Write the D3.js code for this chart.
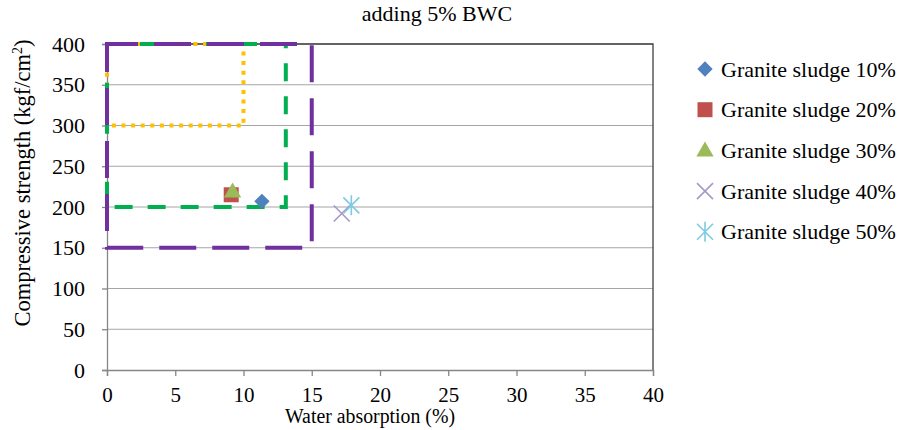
<!DOCTYPE html>
<html>
<head>
<meta charset="utf-8">
<script src="https://cdn.jsdelivr.net/npm/d3@7"></script>
<style>
  body { margin: 0; background: #fff; }
  text { font-family: "Liberation Serif", "Times New Roman", serif; fill: #000; }
</style>
</head>
<body>
<div id="chart"></div>
<script>
// data
var seriesNames = ["Granite sludge 10%", "Granite sludge 20%", "Granite sludge 30%", "Granite sludge 40%", "Granite sludge 50%"];
var waterAbsorption = [11.35, 9.1, 9.2, 17.2, 17.9];
var compStrength = [207, 215, 219, 192, 202];
var xTicks = [0, 5, 10, 15, 20, 25, 30, 35, 40];
var yTicks = [0, 50, 100, 150, 200, 250, 300, 350, 400];

// limit boxes [x0, x1] / [y0, y1]
var boxNames = ["yellow", "green", "purple"];
var boxX = [[0, 10], [0, 13.1], [0, 15]];
var boxY = [[300, 400], [200, 400], [150, 400]];

var width = 901, height = 430;
var margin = {left: 107, right: 248, top: 44, bottom: 60};

var svg = d3.select("#chart").append("svg")
  .attr("width", width)
  .attr("height", height);

var x = d3.scaleLinear().domain([0, 40]).range([margin.left, width - margin.right]);
var y = d3.scaleLinear().domain([0, 400]).range([height - margin.bottom, margin.top]);

// gridlines
svg.append("g")
  .selectAll("line")
  .data(yTicks.slice(1))
  .enter().append("line")
  .attr("x1", x(0)).attr("x2", x(40))
  .attr("y1", function (d) { return y(d); })
  .attr("y2", function (d) { return y(d); })
  .attr("stroke", "#a6a6a6")
  .attr("stroke-width", 1.2);

// frame top + right
svg.append("path")
  .attr("d", "M" + x(0) + "," + y(400) + "H" + x(40) + "V" + y(0))
  .attr("fill", "none")
  .attr("stroke", "#404040")
  .attr("stroke-width", 1.3);

var yAxis = svg.append("g")
  .attr("transform", "translate(" + x(0) + ",0)")
  .call(d3.axisLeft(y).tickValues(yTicks).tickSize(5).tickPadding(17));
var xAxis = svg.append("g")
  .attr("transform", "translate(0," + y(0) + ")")
  .call(d3.axisBottom(x).tickValues(xTicks).tickSize(6).tickPadding(11));

[xAxis, yAxis].forEach(function (a) {
  a.select(".domain").attr("stroke", "#868686").attr("stroke-width", 1.3);
  a.selectAll(".tick line").attr("stroke", "#868686").attr("stroke-width", 1.3);
  a.selectAll(".tick text")
    .style("font-family", "Liberation Serif")
    .attr("fill", "#000");
});
yAxis.selectAll(".tick text").style("font-size", "22px");
xAxis.selectAll(".tick text").style("font-size", "21px");

// boxes
var boxStyle = {
  yellow: {color: "#ffc000", dash: "4,5.6"},
  green: {color: "#00b050", dash: "18,15"},
  purple: {color: "#7030a0", dash: "37,16"}
};
boxNames.forEach(function (n, i) {
  var x0 = x(boxX[i][0]), x1 = x(boxX[i][1]);
  var y0 = y(boxY[i][0]), y1 = y(boxY[i][1]);
  svg.append("path")
    .attr("d", "M" + x0 + "," + y1 + "H" + x1 + "V" + y0 + "H" + x0 + "Z")
    .attr("fill", "none")
    .attr("stroke", boxStyle[n].color)
    .attr("stroke-width", 4)
    .attr("stroke-dasharray", boxStyle[n].dash)
    .attr("stroke-dashoffset", n === "purple" ? 6 : 0);
});

// markers
var colors = ["#4f81bd", "#c0504d", "#9bbb59", "#a897c8", "#7dcbe0"];

function drawMarker(g, i, cx, cy) {
  if (i === 0) {
    g.append("path").attr("d", d3.symbol().type(d3.symbolDiamond2).size(150)())
      .attr("transform", "translate(" + cx + "," + cy + ")").attr("fill", colors[i]);
  } else if (i === 1) {
    g.append("rect").attr("x", cx - 7.5).attr("y", cy - 7.5)
      .attr("width", 15).attr("height", 15).attr("fill", colors[i]);
  } else if (i === 2) {
    g.append("path").attr("d", d3.symbol().type(d3.symbolTriangle).size(130)())
      .attr("transform", "translate(" + cx + "," + (cy + 1) + ")").attr("fill", colors[i]);
  } else if (i === 3) {
    g.append("path")
      .attr("d", "M-8,-8L8,8M-8,8L8,-8")
      .attr("transform", "translate(" + cx + "," + cy + ")")
      .attr("stroke", colors[i]).attr("stroke-width", 1.6).attr("fill", "none");
  } else {
    g.append("path")
      .attr("d", "M-8,-8L8,8M-8,8L8,-8M0,-10V10")
      .attr("transform", "translate(" + cx + "," + cy + ")")
      .attr("stroke", colors[i]).attr("stroke-width", 1.6).attr("fill", "none");
  }
}

var pts = svg.append("g");
seriesNames.forEach(function (s, i) {
  drawMarker(pts, i, x(waterAbsorption[i]), y(compStrength[i]));
});

// legend
var legend = svg.append("g");
seriesNames.forEach(function (s, i) {
  var ly = 69 + i * 40.7;
  drawMarker(legend, i, 705, ly);
  legend.append("text")
    .attr("x", 721).attr("y", ly + 7.5)
    .style("font-size", "22px")
    .text(s);
});

// titles
svg.append("text")
  .attr("x", 437).attr("y", 21)
  .attr("text-anchor", "middle")
  .style("font-size", "22px")
  .text("adding 5% BWC");

svg.append("text")
  .attr("x", 370).attr("y", 423)
  .attr("text-anchor", "middle")
  .attr("textLength", 170)
  .attr("lengthAdjust", "spacingAndGlyphs")
  .style("font-size", "20px")
  .text("Water absorption (%)");

var yl = svg.append("text")
  .attr("transform", "translate(30,183) rotate(-90)")
  .attr("text-anchor", "middle")
  .style("font-size", "22.5px");
yl.append("tspan").text("Compressive strength (kgf/cm");
yl.append("tspan").attr("dy", -8).style("font-size", "14px").text("2");
yl.append("tspan").attr("dy", 8).text(")");
</script>
</body>
</html>
